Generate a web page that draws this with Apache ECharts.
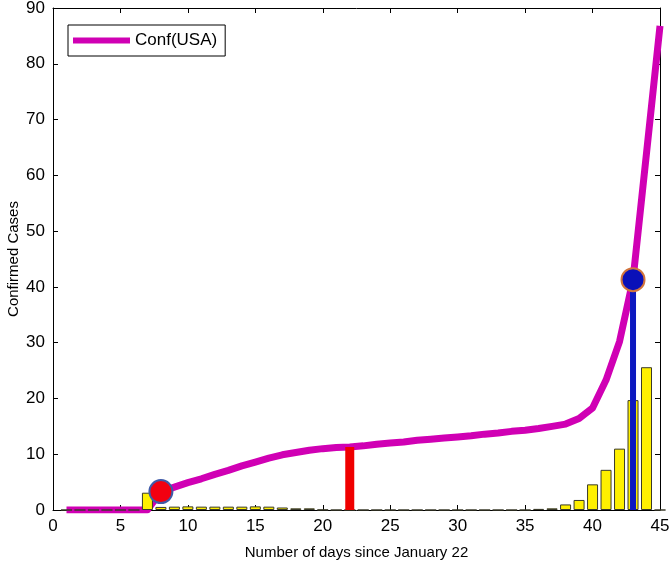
<!DOCTYPE html>
<html>
<head>
<meta charset="utf-8">
<script src="https://cdn.jsdelivr.net/npm/echarts@6/dist/echarts.min.js"></script>
<style>
  html, body { margin: 0; padding: 0; background: #fff; }
  #chart { width: 669px; height: 570px; }
</style>
</head>
<body>
<div id="chart"></div>
<script>
// days since January 22
const days = [1, 2, 3, 4, 5, 6, 7, 8, 9, 10, 11, 12, 13, 14, 15, 16, 17, 18, 19, 20, 21, 22, 23,
  24, 25, 26, 27, 28, 29, 30, 31, 32, 33, 34, 35, 36, 37, 38, 39, 40, 41, 42, 43, 44, 45]

// cumulative confirmed (line)
const confirmed = [0, 0, 0, 0, 0, 0, 0, 3.3, 4.1, 4.9, 5.6, 6.4, 7.1, 7.9, 8.6, 9.3, 9.9, 10.3,
  10.7, 11.0, 11.2, 11.3, 11.5, 11.8, 12.0, 12.2, 12.5, 12.7, 12.9, 13.1, 13.3, 13.6, 13.8, 14.1,
  14.3, 14.6, 15.0, 15.4, 16.4, 18.3, 23.3, 30.2, 41.3, 64.0, 86.8]

// daily new cases (bars)
const daily = [0, 0, 0, 0, 0, 0, 3.1, 0.55, 0.6, 0.65, 0.6, 0.6, 0.6, 0.6, 0.65, 0.6, 0.45, 0.3,
  0.3, 0.05, 0, 0, 0, 0, 0, 0, 0, 0, 0, 0, 0, 0, 0, 0, 0, 0.2, 0.3, 1.0, 1.8, 4.6, 7.2, 11.0, 19.7,
  25.6, 0]

// highlighted days
const redDay = 22
const blueDay = 43
const circleDays = [8, 43]

const xTicks = { min: 0, max: 45, interval: 5 }
const yTicks = { min: 0, max: 90, interval: 10 }

const valueAt = (d) => confirmed[days.indexOf(d)]
const font = 'Liberation Sans, Arial, sans-serif'

const chart = echarts.init(document.getElementById('chart'))

const boxAxis = {
  axisLine: { show: true, onZero: false, lineStyle: { color: '#000', width: 1 } },
  axisTick: { show: true, inside: true, length: 5, lineStyle: { color: '#000' } },
  splitLine: { show: false },
}

chart.setOption({
  animation: false,
  backgroundColor: '#fff',
  grid: { left: 53, right: 9, top: 8, bottom: 60, outerBoundsMode: 'none', containLabel: false },
  legend: {
    left: 68,
    top: 25,
    data: [{ name: 'Conf(USA)', icon: 'rect' }],
    backgroundColor: '#fff',
    borderColor: '#000',
    borderWidth: 1,
    borderRadius: 0,
    padding: [7, 8, 7, 5],
    itemWidth: 57,
    itemHeight: 6,
    itemGap: 5,
    textStyle: { fontFamily: font, fontSize: 17, color: '#000' },
  },
  xAxis: [
    {
      type: 'value', ...xTicks, ...boxAxis,
      name: 'Number of days since January 22',
      nameLocation: 'middle',
      nameGap: 35,
      nameMoveOverlap: false,
      nameTextStyle: { fontFamily: font, fontSize: 15, color: '#000' },
      axisLabel: { fontFamily: font, fontSize: 17, color: '#000', margin: 8 },
    },
    { type: 'value', position: 'top', ...xTicks, ...boxAxis, axisLabel: { show: false } },
  ],
  yAxis: [
    {
      type: 'value', ...yTicks, ...boxAxis,
      name: 'Confirmed Cases',
      nameLocation: 'middle',
      nameGap: 32,
      nameMoveOverlap: false,
      nameTextStyle: { fontFamily: font, fontSize: 15, color: '#000' },
      axisLabel: { fontFamily: font, fontSize: 17, color: '#000', margin: 8 },
    },
    { type: 'value', position: 'right', ...yTicks, ...boxAxis, axisLabel: { show: false } },
  ],
  series: [
    {
      name: 'Conf(USA)',
      type: 'line',
      z: 2,
      symbol: 'none',
      data: days.map((d, i) => [d, confirmed[i]]),
      itemStyle: { color: '#d000b4' },
      lineStyle: { color: '#d000b4', width: 7, join: 'round' },
    },
    {
      name: 'daily',
      type: 'bar',
      z: 3,
      barWidth: 11,
      data: days.map((d, i) => [d, daily[i]]),
      itemStyle: { color: '#fff000', borderColor: '#3a3a2a', borderWidth: 1 },
    },
    {
      name: 'red stem',
      type: 'line',
      z: 4,
      symbol: 'none',
      data: [[redDay, 0], [redDay, valueAt(redDay)]],
      lineStyle: { color: '#f00000', width: 9, cap: 'butt' },
    },
    {
      name: 'blue stem',
      type: 'line',
      z: 4,
      symbol: 'none',
      data: [[blueDay, 0], [blueDay, valueAt(blueDay)]],
      lineStyle: { color: '#0c18c0', width: 6, cap: 'butt' },
    },
    {
      name: 'red point',
      type: 'scatter',
      z: 5,
      symbolSize: 23,
      data: [[circleDays[0], valueAt(circleDays[0])]],
      itemStyle: { color: '#f20010', borderColor: '#3f5aa8', borderWidth: 2, opacity: 1 },
    },
    {
      name: 'blue point',
      type: 'scatter',
      z: 5,
      symbolSize: 23,
      data: [[circleDays[1], valueAt(circleDays[1])]],
      itemStyle: { color: '#0a10b8', borderColor: '#d2743c', borderWidth: 2, opacity: 1 },
    },
  ],
})
</script>
</body>
</html>
